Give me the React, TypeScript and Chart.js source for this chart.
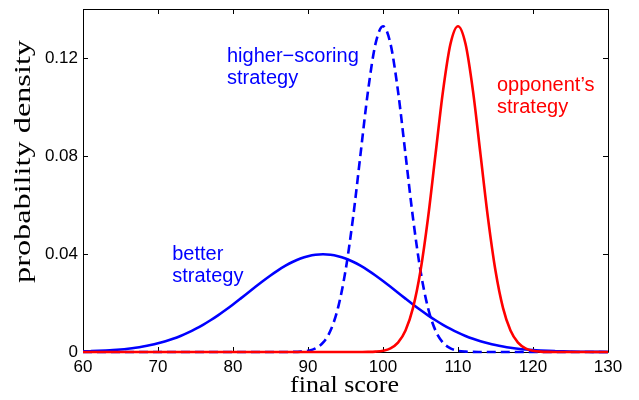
import React, { useEffect, useRef } from 'react';
import { Chart, registerables } from 'chart.js';

Chart.register(...registerables);

const scores = [
  60, 61, 62, 63, 64, 65, 66, 67, 68, 69,
  70, 71, 72, 73, 74, 75, 76, 77, 78, 79,
  80, 81, 82, 83, 84, 85, 86, 87, 88, 89,
  90, 91, 92, 93, 94, 95, 96, 97, 98, 99,
  100, 101, 102, 103, 104, 105, 106, 107, 108, 109,
  110, 111, 112, 113, 114, 115, 116, 117, 118, 119,
  120, 121, 122, 123, 124, 125, 126, 127, 128, 129,
  130,
];

const betterStrategy = [
  0.00024, 0.00033, 0.00044, 0.0006, 0.00079, 0.00104, 0.00136, 0.00175, 0.00224, 0.00283,
  0.00355, 0.0044, 0.0054, 0.00656, 0.0079, 0.00941, 0.01109, 0.01295, 0.01497, 0.01714,
  0.01942, 0.02179, 0.0242, 0.02661, 0.02897, 0.03123, 0.03332, 0.03521, 0.03683, 0.03814,
  0.0391, 0.0397, 0.03989, 0.0397, 0.0391, 0.03814, 0.03683, 0.03521, 0.03332, 0.03123,
  0.02897, 0.02661, 0.0242, 0.02179, 0.01942, 0.01714, 0.01497, 0.01295, 0.01109, 0.00941,
  0.0079, 0.00656, 0.0054, 0.0044, 0.00355, 0.00283, 0.00224, 0.00175, 0.00136, 0.00104,
  0.00079, 0.0006, 0.00044, 0.00033, 0.00024, 0.00017, 0.00012, 0.00009, 0.00006, 0.00004,
  0.00003,
];

const higherScoringStrategy = [
  0, 0, 0, 0, 0, 0, 0, 0, 0, 0,
  0, 0, 0, 0, 0, 0, 0, 0, 0, 0,
  0, 0, 0, 0, 0, 0, 0, 0.00001, 0.00004, 0.00016,
  0.00051, 0.00148, 0.0038, 0.00874, 0.018, 0.03316, 0.05467, 0.08066, 0.10648, 0.12579,
  0.13298, 0.12579, 0.10648, 0.08066, 0.05467, 0.03316, 0.018, 0.00874, 0.0038, 0.00148,
  0.00051, 0.00016, 0.00004, 0.00001, 0, 0, 0, 0, 0, 0,
  0, 0, 0, 0, 0, 0, 0, 0, 0, 0,
  0,
];

const opponentStrategy = [
  0, 0, 0, 0, 0, 0, 0, 0, 0, 0,
  0, 0, 0, 0, 0, 0, 0, 0, 0, 0,
  0, 0, 0, 0, 0, 0, 0, 0, 0, 0,
  0, 0, 0, 0, 0, 0, 0, 0.00001, 0.00004, 0.00016,
  0.00051, 0.00148, 0.0038, 0.00874, 0.018, 0.03316, 0.05467, 0.08066, 0.10648, 0.12579,
  0.13298, 0.12579, 0.10648, 0.08066, 0.05467, 0.03316, 0.018, 0.00874, 0.0038, 0.00148,
  0.00051, 0.00016, 0.00004, 0.00001, 0, 0, 0, 0, 0, 0,
  0,
];

const xTickValues = [60, 70, 80, 90, 100, 110, 120, 130];
const yTickValues = [0, 0.04, 0.08, 0.12];
const yTickLabels = ['0', '0.04', '0.08', '0.12'];
const xTitle = 'final score';
const yTitle = 'probability density';
const betterLabel = ['better', 'strategy'];
const higherLabel = ['higher\u2212scoring', 'strategy'];
const opponentLabel = ['opponent\u2019s', 'strategy'];

const BLUE = '#0000ff';
const RED = '#ff0000';

const framePlugin = {
  id: 'frameTicks',
  beforeDatasetsDraw(chart: any) {
    const { ctx, chartArea } = chart;
    const { left, right, top, bottom } = chartArea;
    const xs = chart.scales.x;
    const ys = chart.scales.y;
    ctx.save();
    ctx.strokeStyle = '#000';
    ctx.lineWidth = 1;
    ctx.beginPath();
    ctx.rect(Math.round(left) + 0.5, Math.round(top) + 0.5, Math.round(right - left), Math.round(bottom - top));
    ctx.stroke();
    const tl = 5;
    ctx.beginPath();
    xTickValues.forEach((v) => {
      const p = Math.round(xs.getPixelForValue(v)) + 0.5;
      ctx.moveTo(p, bottom);
      ctx.lineTo(p, bottom - tl);
      ctx.moveTo(p, top);
      ctx.lineTo(p, top + tl);
    });
    yTickValues.forEach((v) => {
      const p = Math.round(ys.getPixelForValue(v)) + 0.5;
      ctx.moveTo(left, p);
      ctx.lineTo(left + tl, p);
      ctx.moveTo(right, p);
      ctx.lineTo(right - tl, p);
    });
    ctx.stroke();
    ctx.restore();
  },
};

const annotations = [
  { lines: betterLabel, x: 71.9, y: 0.0376, color: BLUE },
  { lines: higherLabel, x: 79.2, y: 0.1184, color: BLUE },
  { lines: opponentLabel, x: 115.2, y: 0.1065, color: RED },
];

const annotationPlugin = {
  id: 'textLabels',
  afterDatasetsDraw(chart: any) {
    const { ctx } = chart;
    const xs = chart.scales.x;
    const ys = chart.scales.y;
    ctx.save();
    ctx.font = '20px "Liberation Sans", Arial, sans-serif';
    ctx.textAlign = 'left';
    ctx.textBaseline = 'alphabetic';
    annotations.forEach((a) => {
      const px = xs.getPixelForValue(a.x);
      const py = ys.getPixelForValue(a.y);
      ctx.fillStyle = a.color;
      a.lines.forEach((line, i) => ctx.fillText(line, px, py + i * 22));
    });
    ctx.restore();
  },
};

const titlePlugin = {
  id: 'axisTitles',
  afterDraw(chart: any) {
    const { ctx, chartArea } = chart;
    ctx.save();
    ctx.fillStyle = '#000';
    ctx.font = '23px "Liberation Serif", "Times New Roman", serif';
    ctx.textAlign = 'center';
    ctx.textBaseline = 'alphabetic';
    const wx = ctx.measureText(xTitle).width;
    const sx = 109 / wx;
    ctx.save();
    ctx.translate((chartArea.left + chartArea.right) / 2 - 1, 383.7);
    ctx.scale(sx, 1);
    ctx.fillText(xTitle, 0, 0);
    ctx.restore();
    const wy = ctx.measureText(yTitle).width;
    const sy = 243 / wy;
    ctx.save();
    ctx.translate(22, 153.5);
    ctx.rotate(-Math.PI / 2);
    ctx.scale(sy, 1);
    ctx.fillText(yTitle, 0, 0);
    ctx.restore();
    ctx.restore();
  },
};

export default function App() {
  const canvasRef = useRef<HTMLCanvasElement | null>(null);

  useEffect(() => {
    const canvas = canvasRef.current;
    if (!canvas) return;
    const chart = new Chart(canvas, {
      type: 'line',
      data: {
        datasets: [
          {
            label: "opponent's strategy",
            data: scores.map((s, i) => ({ x: s, y: opponentStrategy[i] })),
            borderColor: RED,
            borderWidth: 2.6,
            pointRadius: 0,
            cubicInterpolationMode: 'monotone',
            fill: false,
            clip: false,
            order: 0,
          },
          {
            label: 'higher-scoring strategy',
            data: scores.map((s, i) => ({ x: s, y: higherScoringStrategy[i] })),
            borderColor: BLUE,
            borderWidth: 2.6,
            borderDash: [9, 5],
            pointRadius: 0,
            cubicInterpolationMode: 'monotone',
            fill: false,
            clip: false,
            order: 1,
          },
          {
            label: 'better strategy',
            data: scores.map((s, i) => ({ x: s, y: betterStrategy[i] })),
            borderColor: BLUE,
            borderWidth: 2.6,
            pointRadius: 0,
            cubicInterpolationMode: 'monotone',
            fill: false,
            clip: false,
            order: 2,
          },
        ],
      },
      options: {
        responsive: false,
        animation: false,
        events: [],
        layout: { padding: { top: 1, right: 23, left: 0, bottom: 0 } },
        plugins: {
          legend: { display: false },
          tooltip: { enabled: false },
          title: { display: false },
        },
        scales: {
          x: {
            type: 'linear',
            min: 60,
            max: 130,
            grid: { display: false, drawTicks: false },
            border: { display: false },
            afterBuildTicks: (scale: any) => {
              scale.ticks = xTickValues.map((v) => ({ value: v }));
            },
            afterFit: (scale: any) => {
              scale.height = 40;
              scale.paddingLeft = 0;
              scale.paddingRight = 0;
            },
            ticks: {
              color: '#000',
              padding: 5,
              maxRotation: 0,
              autoSkip: false,
              font: { family: '"Liberation Sans", Arial, sans-serif', size: 17 },
              callback: (v: any) => String(v),
            },
          },
          y: {
            type: 'linear',
            min: 0,
            max: 0.14,
            grid: { display: false, drawTicks: false },
            border: { display: false },
            afterBuildTicks: (scale: any) => {
              scale.ticks = yTickValues.map((v) => ({ value: v }));
            },
            afterFit: (scale: any) => {
              scale.width = 75;
              scale.paddingTop = 0;
              scale.paddingBottom = 0;
            },
            ticks: {
              color: '#000',
              padding: 5,
              autoSkip: false,
              font: { family: '"Liberation Sans", Arial, sans-serif', size: 17 },
              callback: (_v: any, i: number) => yTickLabels[i],
            },
          },
        },
      },
      plugins: [framePlugin, annotationPlugin, titlePlugin],
    } as any);
    return () => chart.destroy();
  }, []);

  return (
    <div style={{ width: 623, height: 384 }}>
      <canvas ref={canvasRef} width={623} height={384} style={{ display: 'block' }} />
    </div>
  );
}
